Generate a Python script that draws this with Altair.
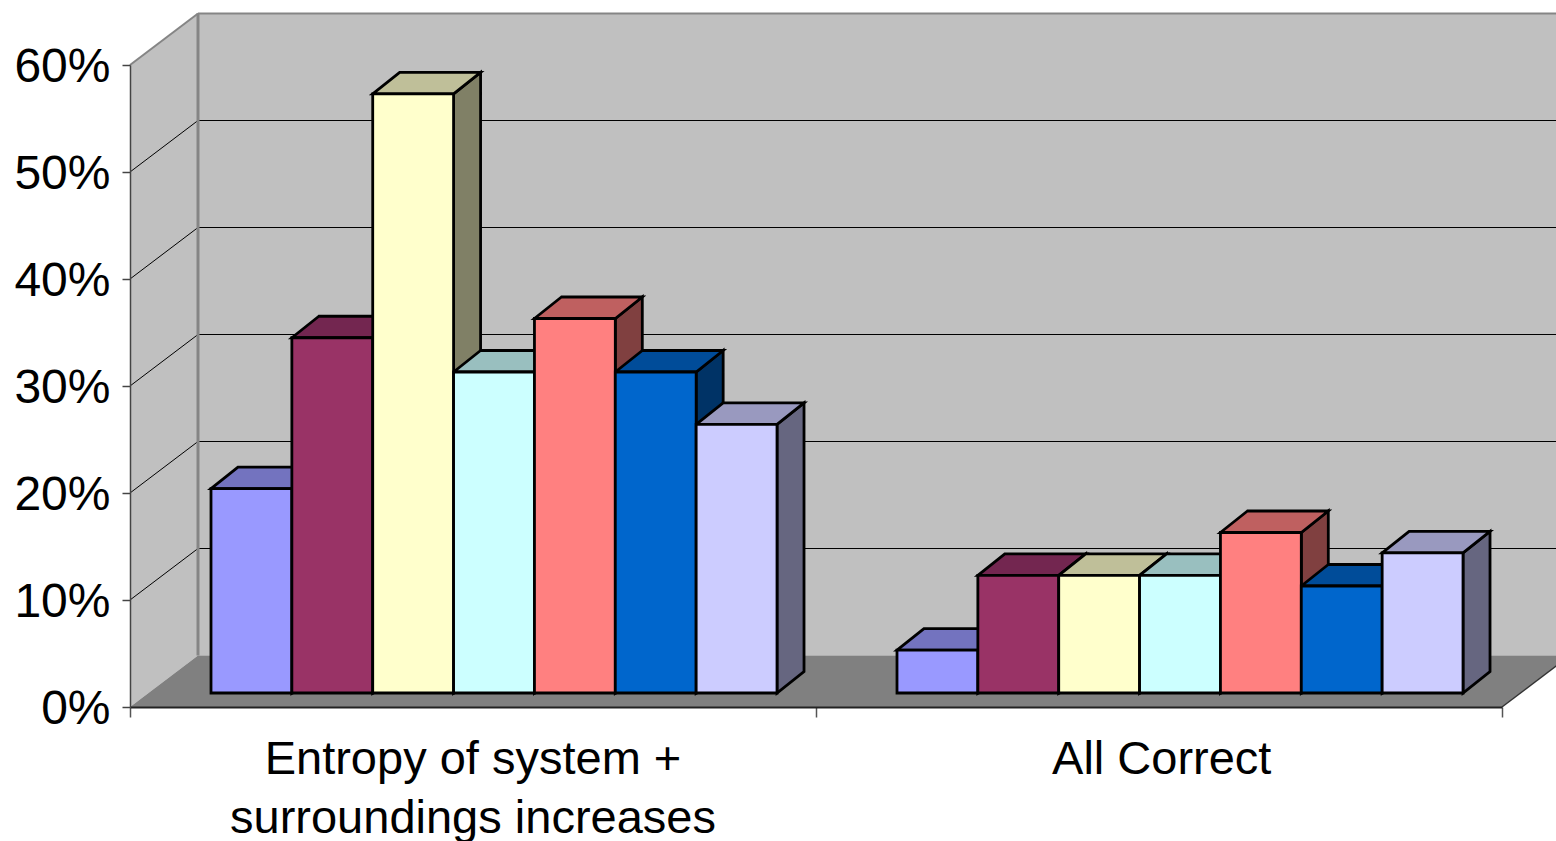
import altair as alt
import pandas as pd

# Survey results, in percent, one list per response group
categories = ["Entropy of system +\nsurroundings increases", "All Correct"]
series_values = [
    [19.1, 33.2, 56, 30, 35, 30, 25.1],
    [4, 11, 11, 11, 15, 10, 13.1],
]
front_colors = ["#9999FF", "#993366", "#FFFFCC", "#CCFFFF", "#FF8080", "#0066CC", "#CCCCFF"]
top_colors = ["#7373BF", "#732650", "#BFBF99", "#99BFBF", "#BF6060", "#004C99", "#9999BF"]
side_colors = ["#4C4C80", "#4C1933", "#808066", "#668080", "#804040", "#003366", "#666680"]
y_ticks = [0, 10, 20, 30, 40, 50, 60]
label_positions = [0.5, 1.504]

# Oblique projection: depth is expressed in axis units
PX_X = 686.0   # pixels per category
PX_Y = 10.7    # pixels per percentage point
WALL_DX, WALL_DY = 68 / PX_X, 51.5 / PX_Y
BAR_DX, BAR_DY = 27 / PX_X, 21.5 / PX_Y
BAR_START, BAR_W = 81 / PX_X, 80.86 / PX_X
BAR_LIFT = 14 / PX_Y
N_CAT = len(categories)

fronts, sides, tops = [], [], []
for g, values in enumerate(series_values):
    for k, v in enumerate(values):
        x0 = g + BAR_START + k * BAR_W
        x1 = x0 + BAR_W
        bid = f"{g}-{k}"
        fronts.append(dict(id=bid, x=x0, x2=x1, y=BAR_LIFT, y2=BAR_LIFT + v, fill=front_colors[k]))
        for t, shift in enumerate((0, 1)):
            sides.append(dict(id=bid, x=x1 + shift * BAR_DX,
                              y=BAR_LIFT + v + shift * BAR_DY,
                              y2=BAR_LIFT + shift * BAR_DY, fill=side_colors[k]))
            tops.append(dict(id=bid, y=BAR_LIFT + v + shift * BAR_DY,
                             x=x0 + shift * BAR_DX, x2=x1 + shift * BAR_DX, fill=top_colors[k]))

x_scale = alt.Scale(domain=[0, N_CAT], nice=False, zero=False)
y_scale = alt.Scale(domain=[0, 60], nice=False, zero=False)
X = lambda f: alt.X(f, type="quantitative", scale=x_scale, title=None)
Y = lambda f: alt.Y(f, type="quantitative", scale=y_scale, title=None, stack=None)
FILL = alt.Fill("fill:N", scale=None, legend=None)

TOP = y_ticks[-1]
GRID = "#000000"
WALL_EDGE = "#858585"

# Walls and floor
side_wall = alt.Chart(pd.DataFrame([
    dict(x=0, y=TOP, y2=0), dict(x=WALL_DX, y=TOP + WALL_DY, y2=WALL_DY),
])).mark_area(color="#C0C0C0", orient="vertical").encode(
    x=alt.X("x:Q", scale=x_scale, title=None,
            axis=alt.Axis(values=[0, 1, 2], labels=False, tickSize=10, tickColor="#555555",
                          tickWidth=1.5, domainColor="#222222", domainWidth=2, grid=False,
                          title=None, zindex=1)),
    y=alt.Y("y:Q", scale=y_scale, title=None, stack=None,
            axis=alt.Axis(values=y_ticks, labelExpr="datum.value + '%'", labelFont="Liberation Sans",
                          labelFontSize=48, labelColor="#000000", labelPadding=12, labelOffset=2,
                          tickSize=8, tickColor="#444444", tickWidth=1.5, domainColor="#444444",
                          domainWidth=1.5, grid=False, title=None, zindex=1)),
    y2="y2:Q",
)
back_wall = alt.Chart(pd.DataFrame([dict(x=WALL_DX, x2=N_CAT + WALL_DX, y=WALL_DY, y2=TOP + WALL_DY)])
    ).mark_rect(color="#C0C0C0").encode(x=X("x"), x2="x2:Q", y=Y("y"), y2="y2:Q")
floor = alt.Chart(pd.DataFrame([
    dict(y=0, x=0, x2=N_CAT), dict(y=WALL_DY, x=WALL_DX, x2=N_CAT + WALL_DX),
])).mark_area(color="#808080", orient="horizontal").encode(x=X("x"), x2="x2:Q", y=Y("y"))

# Gridlines on both walls
grid_vals = [v for v in y_ticks if 0 < v < TOP]
back_grid = alt.Chart(pd.DataFrame([dict(x=WALL_DX, x2=N_CAT + WALL_DX, y=v + WALL_DY) for v in grid_vals])
    ).mark_rule(color=GRID, strokeWidth=1).encode(x=X("x"), x2="x2:Q", y=Y("y"))
side_grid = alt.Chart(pd.DataFrame([dict(x=0, x2=WALL_DX, y=v, y2=v + WALL_DY) for v in grid_vals])
    ).mark_rule(color=GRID, strokeWidth=1).encode(x=X("x"), x2="x2:Q", y=Y("y"), y2="y2:Q")

# Wall edges
edges = alt.Chart(pd.DataFrame([
    dict(x=WALL_DX, x2=WALL_DX, y=WALL_DY, y2=TOP + WALL_DY, w=3),
    dict(x=WALL_DX, x2=N_CAT + WALL_DX, y=TOP + WALL_DY, y2=TOP + WALL_DY, w=2),
    dict(x=0, x2=WALL_DX, y=TOP, y2=TOP + WALL_DY, w=2),
])).mark_rule(color=WALL_EDGE).encode(
    x=X("x"), x2="x2:Q", y=Y("y"), y2="y2:Q",
    strokeWidth=alt.StrokeWidth("w:Q", scale=None, legend=None),
)
floor_edge = alt.Chart(pd.DataFrame([dict(x=N_CAT, x2=N_CAT + WALL_DX, y=0, y2=WALL_DY)])
    ).mark_rule(color="#333333", strokeWidth=1.5).encode(x=X("x"), x2="x2:Q", y=Y("y"), y2="y2:Q")

# Bars: side faces, then top faces, then front faces on top of both
BAR_STROKE = dict(stroke="#000000", strokeWidth=2.8, strokeJoin="miter")
bar_sides = alt.Chart(pd.DataFrame(sides)).mark_area(orient="vertical", **BAR_STROKE).encode(
    x=X("x"), y=Y("y"), y2="y2:Q", fill=FILL, detail="id:N")
bar_tops = alt.Chart(pd.DataFrame(tops)).mark_area(orient="horizontal", **BAR_STROKE).encode(
    x=X("x"), x2="x2:Q", y=Y("y"), fill=FILL, detail="id:N")
bar_fronts = alt.Chart(pd.DataFrame(fronts)).mark_rect(**BAR_STROKE).encode(
    x=X("x"), x2="x2:Q", y=Y("y"), y2="y2:Q", fill=FILL, detail="id:N")

# Category labels beneath the axis
cat_labels = alt.Chart(pd.DataFrame({"label": categories, "pos": label_positions})).mark_text(
    font="Liberation Sans", fontSize=47, lineBreak="\n", lineHeight=59,
    baseline="alphabetic", align="center", color="#000000",
).encode(x=X("pos"), y=alt.value(709), text="label:N")

chart = alt.layer(
    side_wall, back_wall, floor, side_grid, back_grid, edges, floor_edge,
    bar_sides, bar_tops, bar_fronts, cat_labels,
).properties(
    width=1372, height=642,
    autosize="none",
    padding={"left": 130, "top": 65, "right": 54, "bottom": 134},
    background="#FFFFFF",
).configure_view(stroke=None)

chart.save("out.html", embed_options={"renderer": "svg", "actions": False})
